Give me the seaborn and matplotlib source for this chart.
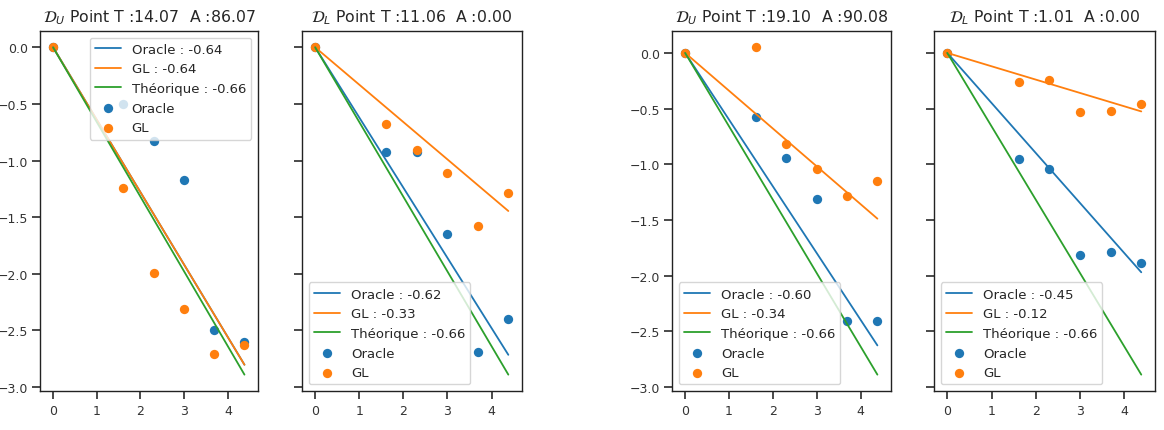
import numpy as np
import pandas as pd
import matplotlib
matplotlib.use("Agg")
import matplotlib.pyplot as plt
import seaborn as sns

# abscisses communes (log du nombre de points)
x_vals = [0.0, 1.61, 2.30, 3.00, 3.69, 4.38]

titles = [
    r"$\mathcal{D}_U$ Point T :14.07  A :86.07",
    r"$\mathcal{D}_L$ Point T :11.06  A :0.00",
    r"$\mathcal{D}_U$ Point T :19.10  A :90.08",
    r"$\mathcal{D}_L$ Point T :1.01  A :0.00",
]

oracle_slopes = [-0.64, -0.62, -0.60, -0.45]
gl_slopes = [-0.64, -0.33, -0.34, -0.12]
theo_slope = -0.66

oracle_pts = [
    [0.0, -0.50, -0.83, -1.17, -2.50, -2.60],
    [0.0, -0.92, -0.92, -1.65, -2.69, -2.40],
    [0.0, -0.58, -0.94, -1.31, -2.41, -2.41],
    [0.0, -0.95, -1.04, -1.82, -1.79, -1.89],
]
gl_pts = [
    [0.0, -1.24, -1.99, -2.31, -2.71, -2.63],
    [0.0, -0.68, -0.91, -1.11, -1.58, -1.29],
    [0.0, 0.05, -0.82, -1.04, -1.29, -1.15],
    [0.0, -0.26, -0.24, -0.53, -0.52, -0.46],
]

legend_loc = ["upper right", "lower left", "lower left", "lower left"]

sns.set_theme(style="ticks")
plt.rcParams.update({
    'font.family': ['DejaVu Sans'],
    'axes.edgecolor': '#222222',
    'xtick.labelsize': 9,
    'ytick.labelsize': 9,
    'xtick.color': '#333333',
    'ytick.color': '#333333',
    'ytick.major.pad': 2.5,
    'axes.titlesize': 11.3,
    'legend.fontsize': 9.5,
})

W, H = 1164, 431
fig = plt.figure(figsize=(W / 100, H / 100), dpi=100)

# positions des axes en pixels (gauche, droite)
lefts = [40, 302, 672, 934]
rights = [258, 522, 891, 1155]
top, bottom = 32, 392

pal = sns.color_palette("tab10")
axes = []
for i in range(4):
    rect = [lefts[i] / W, 1 - bottom / H, (rights[i] - lefts[i]) / W, (bottom - top) / H]
    sharey = axes[i - 1] if i % 2 == 1 else None
    ax = fig.add_axes(rect, sharey=sharey)
    axes.append(ax)

    x = np.array(x_vals)
    df_lines = pd.DataFrame({
        'x': np.concatenate([x, x, x]),
        'y': np.concatenate([oracle_slopes[i] * x, gl_slopes[i] * x, theo_slope * x]),
        'serie': [f"Oracle : {oracle_slopes[i]:.2f}"] * 6
                 + [f"GL : {gl_slopes[i]:.2f}"] * 6
                 + [f"Théorique : {theo_slope:.2f}"] * 6,
    })
    sns.lineplot(data=df_lines, x='x', y='y', hue='serie', palette=pal[:3],
                 ax=ax, linewidth=1.3, legend=False)
    for k, name in enumerate(df_lines['serie'].unique()):
        ax.lines[k].set_label(name)

    sns.scatterplot(x=x_vals, y=oracle_pts[i], ax=ax, color=pal[0],
                    s=45, linewidth=0, label="Oracle")
    sns.scatterplot(x=x_vals, y=gl_pts[i], ax=ax, color=pal[1],
                    s=45, linewidth=0, label="GL")

    ax.set_title(titles[i], pad=7)
    ax.set_xlabel("")
    ax.set_ylabel("")
    ax.set_xlim(-0.3, 4.69)
    ax.set_xticks([0, 1, 2, 3, 4])
    ax.set_yticks([0.0, -0.5, -1.0, -1.5, -2.0, -2.5, -3.0])
    if i % 2 == 1:
        ax.tick_params(labelleft=False)
    ax.legend(loc=legend_loc[i], frameon=True, framealpha=0.8)
    for s in ax.spines.values():
        s.set_linewidth(1.0)

plt.savefig("out.png", dpi=100)
